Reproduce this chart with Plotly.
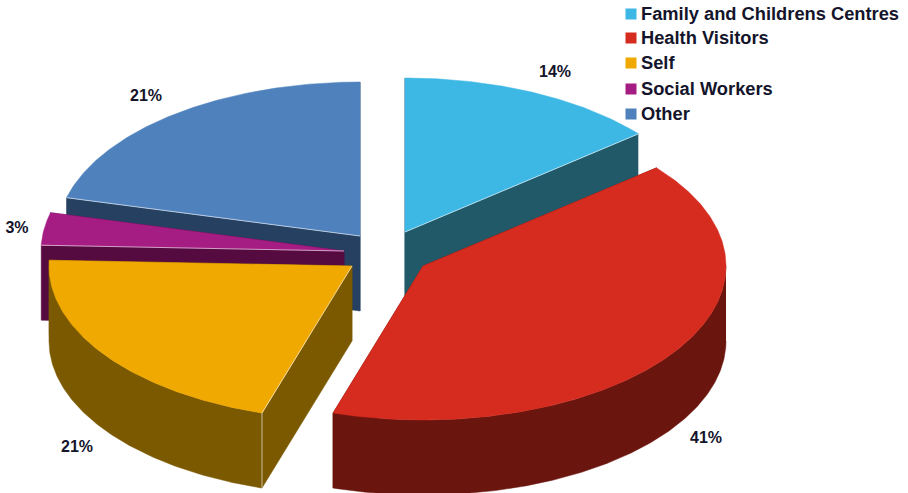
import numpy as np
import plotly.graph_objects as go

categories = ["Family and Childrens Centres", "Health Visitors", "Self", "Social Workers", "Other"]
shares = [14.0, 40.8, 20.8, 3.4, 21.0]

top_colors = ["#3DB7E4", "#D62B1F", "#F0A900", "#A51C82", "#4F81BD"]
wall_colors = ["#215968", "#6A150E", "#7B5900", "#560B40", "#254061"]

# layout of the exploded 3D view, in page pixels
CENTRES = [(405, 232), (423, 266), (352, 266), (344, 251), (360, 236)]
RX, RY, DEPTH = 303, 154, 75
LABEL_XY = [(555, 73), (706, 439), (77, 448), (17, 229), (146, 97)]
LEGEND_X, LEGEND_Y = 631, [14, 38, 63, 89, 114]
LEGEND_TEXT_X, LEGEND_TEXT_DY = 641, 1
DRAW_ORDER = [4, 3, 0, 2, 1]
# slice index -> (highlight the end edge rather than the start edge, add vertical corner)
HIGHLIGHT = {0: (True, True), 2: (False, True), 4: (False, False), 3: (False, False)}
FONT = "Liberation Sans, Arial, sans-serif"
TEXT = "#14142B"

ends = np.cumsum(shares) / np.sum(shares) * 360
starts = np.concatenate([[0], ends[:-1]])


def arc(cx, cy, a0, a1, dy=0):
    t = np.radians(np.linspace(a0, a1, max(int(abs(a1 - a0)) * 2, 2) + 1))
    return cx + RX * np.sin(t), cy - RY * np.cos(t) + dy


def poly(x, y, color):
    return go.Scatter(
        x=x, y=y, mode="lines", fill="toself", fillcolor=color,
        line=dict(color=color, width=0.5), hoverinfo="skip", showlegend=False,
    )


fig = go.Figure()
for i in DRAW_ORDER:
    cx, cy = CENTRES[i]
    a0, a1 = starts[i], ends[i]
    wall = wall_colors[i]
    # radial cut faces
    for a in (a0, a1):
        ex, ey = arc(cx, cy, a, a)
        ex, ey = ex[0], ey[0]
        fig.add_trace(poly([cx, ex, ex, cx, cx],
                           [cy, ey, ey + DEPTH, cy + DEPTH, cy], wall))
    # curved outer wall: only the part facing the viewer
    lo, hi = max(a0, 90), min(a1, 270)
    if hi > lo:
        ux, uy = arc(cx, cy, lo, hi)
        bx, by = arc(cx, cy, lo, hi, DEPTH)
        fig.add_trace(poly(np.r_[ux, bx[::-1]], np.r_[uy, by[::-1]], wall))
    # top face
    ax, ay = arc(cx, cy, a0, a1)
    fig.add_trace(poly(np.r_[cx, ax, cx], np.r_[cy, ay, cy], top_colors[i]))
    # pale highlight edges on the cut faces
    if i in HIGHLIGHT:
        use_end, vertical = HIGHLIGHT[i]
        edge = a1 if use_end else a0
        ex, ey = arc(cx, cy, edge, edge)
        ex, ey = ex[0], ey[0]
        xs, ys = [cx, ex], [cy, ey]
        if vertical:
            xs.append(ex)
            ys.append(ey + DEPTH)
        fig.add_trace(go.Scatter(x=xs, y=ys, mode="lines",
                                 line=dict(color="rgba(255,255,255,0.6)", width=1),
                                 hoverinfo="skip", showlegend=False))

# percentage labels
fig.add_trace(go.Scatter(
    x=[p[0] for p in LABEL_XY], y=[p[1] for p in LABEL_XY], mode="text",
    text=[f"<b>{round(s)}%</b>" for s in shares],
    textfont=dict(family=FONT, size=16, color=TEXT),
    textposition="middle center", hoverinfo="skip", showlegend=False,
))

# legend block
fig.add_trace(go.Scatter(
    x=[LEGEND_X] * len(categories), y=LEGEND_Y, mode="markers",
    marker=dict(symbol="square", size=11, color=top_colors),
    hoverinfo="skip", showlegend=False,
))
fig.add_trace(go.Scatter(
    x=[LEGEND_TEXT_X] * len(categories), y=[y + LEGEND_TEXT_DY for y in LEGEND_Y], mode="text",
    text=[f"<b>{c}</b>" for c in categories], textposition="middle right",
    textfont=dict(family=FONT, size=18.3, color=TEXT),
    hoverinfo="skip", showlegend=False,
))

fig.update_layout(
    width=908, height=493, margin=dict(l=0, r=0, t=0, b=0),
    paper_bgcolor="white", plot_bgcolor="white", showlegend=False,
    xaxis=dict(range=[0, 908], visible=False, fixedrange=True),
    yaxis=dict(range=[493, 0], visible=False, fixedrange=True),
)
fig.write_html(
    "out.html",
    config={"displayModeBar": False},
    post_script="document.body.style.margin='0';document.body.style.overflow='hidden';",
)
